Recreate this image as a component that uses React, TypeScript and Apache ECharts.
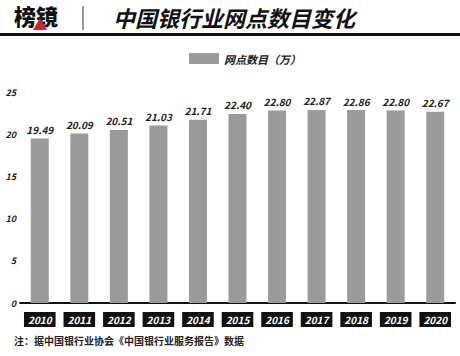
import React, { useEffect, useRef } from "react";
import * as echarts from "echarts";

const years = ["2010", "2011", "2012", "2013", "2014", "2015", "2016", "2017", "2018", "2019", "2020"];
const branches = [19.49, 20.09, 20.51, 21.03, 21.71, 22.4, 22.8, 22.87, 22.86, 22.8, 22.67];
const seriesName = "网点数目（万）";
const titleText = "中国银行业网点数目变化";
const logoText = "榜镜";
const noteText = "注：据中国银行业协会《中国银行业服务报告》数据";

const FONT = "'Noto Sans CJK SC', 'Noto Sans', sans-serif";

export default function App() {
  const ref = useRef<HTMLDivElement>(null);
  useEffect(() => {
    if (!ref.current) return;
    const chart = echarts.init(ref.current, undefined, { renderer: "svg" });
    chart.setOption({
      animation: false,
      backgroundColor: "#fff",
      textStyle: { fontFamily: FONT },
      legend: {
        top: 48,
        left: 184,
        itemWidth: 30,
        itemHeight: 11,
        itemGap: 6,
        textStyle: { fontSize: 11, fontWeight: "bold", fontStyle: "italic", color: "#222", fontFamily: FONT },
        data: [{ name: seriesName, icon: "rect" }],
      },
      grid: { left: 20, right: 5, top: 92, bottom: 53, containLabel: false },
      xAxis: {
        type: "category",
        data: years,
        axisLine: { lineStyle: { color: "#111", width: 2 } },
        axisTick: { show: false },
        axisLabel: {
          margin: 9,
          color: "#fff",
          backgroundColor: "#111",
          padding: [3, 4, 2, 4],
          fontSize: 10,
          fontWeight: "bold",
          fontStyle: "italic",
          fontFamily: FONT,
          interval: 0,
        },
      },
      yAxis: {
        type: "value",
        min: 0,
        max: 25,
        interval: 5,
        axisLine: { show: false },
        axisTick: { show: false },
        splitLine: { show: false },
        axisLabel: { margin: 4, color: "#222", fontSize: 9, fontWeight: "bold", fontStyle: "italic", fontFamily: FONT },
      },
      series: [
        {
          name: seriesName,
          type: "bar",
          data: branches,
          barWidth: 18,
          itemStyle: { color: "#9b9b9b" },
          label: {
            show: true,
            position: "top",
            distance: 4,
            color: "#222",
            fontSize: 10,
            fontWeight: "bold",
            fontStyle: "italic",
            fontFamily: FONT,
            formatter: (p: any) => Number(p.value).toFixed(2),
          },
        },
      ],
      graphic: [
        {
          type: "text",
          left: 14,
          top: 4,
          style: { text: logoText, fill: "#111", font: `900 22px ${FONT}` },
        },
        {
          type: "polygon",
          shape: { points: [[33, 30], [40, 18], [47, 30]] },
          style: { fill: "#c8272d" },
        },
        {
          type: "line",
          shape: { x1: 83, y1: 6, x2: 83, y2: 30 },
          style: { stroke: "#777", lineWidth: 1.5 },
        },
        {
          type: "text",
          left: 113,
          top: 6,
          style: {
            text: titleText,
            fill: "#111",
            font: `italic bold 22px ${FONT}`,
          },
        },
        {
          type: "rect",
          shape: { x: 0, y: 33, width: 460, height: 3 },
          style: { fill: "#111" },
        },
        {
          type: "text",
          left: 14,
          top: 335,
          style: { text: noteText, fill: "#222", font: `bold 10px ${FONT}` },
        },
      ],
    });
    return () => chart.dispose();
  }, []);
  return <div ref={ref} style={{ width: 460, height: 356, position: "absolute", left: 0, top: 0 }} />;
}
